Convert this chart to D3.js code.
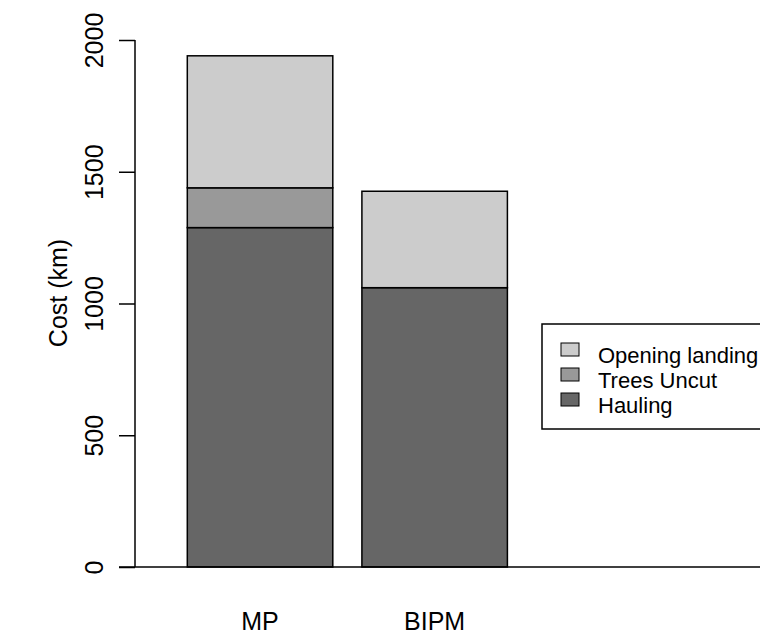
<!DOCTYPE html>
<html>
<head>
<meta charset="utf-8">
<script src="https://cdn.jsdelivr.net/npm/d3@7"></script>
<style>
  body { margin: 0; background: #fff; }
  svg { display: block; }
  text { font-family: "Liberation Sans", Arial, sans-serif; fill: #000; }
</style>
</head>
<body>
<div id="chart"></div>
<script>
// data
var categories = ["MP", "BIPM"];
var seriesNames = ["Hauling", "Trees Uncut", "Opening landing"];
var hauling = [1288, 1060];
var treesUncut = [151, 0];
var openingLanding = [501, 366];
var yTicks = [0, 500, 1000, 1500, 2000];
var seriesColors = ["#666666", "#999999", "#cccccc"];

var width = 760, height = 635;

var svg = d3.select("#chart").append("svg")
    .attr("width", width)
    .attr("height", height);

// build rows for the stack
var rows = categories.map(function(c, i) {
    return { cat: c, "Hauling": hauling[i], "Trees Uncut": treesUncut[i], "Opening landing": openingLanding[i] };
});
var stacked = d3.stack().keys(seriesNames)(rows);

var y = d3.scaleLinear().domain([0, 2000]).range([567, 40]);
// barplot space = 0.2 of bar width
var x = d3.scaleBand().domain(categories)
    .range([158.2, 536.5])
    .paddingInner(1 / 6)
    .paddingOuter(1 / 6);

// bars
svg.append("g").selectAll("g")
    .data(stacked).enter().append("g")
    .attr("fill", function(d, i) { return seriesColors[i]; })
    .selectAll("rect")
    .data(function(d) { return d.filter(function(s) { return s[1] - s[0] > 0; }); })
    .enter().append("rect")
    .attr("x", function(d) { return x(d.data.cat); })
    .attr("y", function(d) { return y(d[1]); })
    .attr("width", x.bandwidth())
    .attr("height", function(d) { return y(d[0]) - y(d[1]); })
    .attr("stroke", "#000")
    .attr("stroke-width", 1.5);

// horizontal base line
svg.append("line")
    .attr("x1", 119).attr("x2", width)
    .attr("y1", y(0)).attr("y2", y(0))
    .attr("stroke", "#000").attr("stroke-width", 1.5);

// y axis
var yAxis = d3.axisLeft(y).tickValues(yTicks).tickSize(16).tickFormat(d3.format("d"));
var ya = svg.append("g").attr("transform", "translate(135,0)").call(yAxis);
ya.select(".domain").attr("d", "M0," + y(0) + "V" + y(2000)).attr("stroke-width", 1.5);
ya.selectAll(".tick line").attr("stroke-width", 1.5);
ya.selectAll(".tick text")
    .attr("x", null).attr("dy", null)
    .attr("transform", "translate(-32,0) rotate(-90)")
    .attr("text-anchor", "middle")
    .style("font-size", "25px")
    .style("font-family", "'Liberation Sans', Arial, sans-serif");

// y title
svg.append("text")
    .attr("transform", "translate(67,293) rotate(-90)")
    .attr("text-anchor", "middle")
    .style("font-size", "25px")
    .text("Cost (km)");

// category labels
svg.append("g").selectAll("text")
    .data(categories).enter().append("text")
    .attr("x", function(d) { return x(d) + x.bandwidth() / 2; })
    .attr("y", 630)
    .attr("text-anchor", "middle")
    .style("font-size", "25px")
    .text(function(d) { return d; });

// legend
var legend = svg.append("g");
legend.append("rect")
    .attr("x", 542).attr("y", 324)
    .attr("width", 240).attr("height", 105)
    .attr("fill", "none").attr("stroke", "#000").attr("stroke-width", 1.5);

var legendOrder = seriesNames.slice().reverse();
var legendColors = seriesColors.slice().reverse();
var items = legend.selectAll("g.item")
    .data(legendOrder).enter().append("g")
    .attr("class", "item")
    .attr("transform", function(d, i) { return "translate(0," + (i * 25) + ")"; });
items.append("rect")
    .attr("x", 561).attr("y", 343)
    .attr("width", 18).attr("height", 13)
    .attr("fill", function(d, i) { return legendColors[i]; })
    .attr("stroke", "#000").attr("stroke-width", 1);
items.append("text")
    .attr("x", 598).attr("y", 363)
    .style("font-size", "22px")
    .text(function(d) { return d; });
</script>
</body>
</html>
